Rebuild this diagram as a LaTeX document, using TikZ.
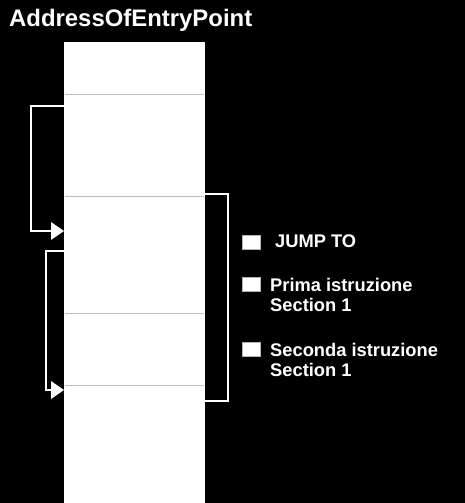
\documentclass[tikz,border=0pt]{standalone}
\usepackage{fontspec}
\setmainfont{Liberation Sans}
\usetikzlibrary{arrows.meta}
\begin{document}
\begin{tikzpicture}[x=1pt,y=-1pt,
  sep/.style={draw=black!25,line width=0.8pt},
  bracket/.style={draw=black!35,double=white,double distance=1.4pt,line width=0.5pt},
  legbox/.style={fill=white,draw=black!30,line width=0.4pt,minimum width=18pt,minimum height=14pt,inner sep=0pt},
  legtext/.style={text=white,font=\bfseries\fontsize{18.3}{21}\selectfont,anchor=base west,inner sep=0pt}]
\useasboundingbox (0,0) rectangle (465,503);
\fill[black] (0,0) rectangle (465,503);
% title
\node[text=white,font=\bfseries\fontsize{23.9}{27}\selectfont,anchor=base west,inner sep=0pt] (title) at (9,27) {AddressOfEntryPoint};
% column
\fill[white] (64,42) rectangle (205,503);
\draw[sep] (65,94) -- (204,94);
\draw[sep] (65,196) -- (204,196);
\draw[sep] (65,313) -- (204,313);
\draw[sep] (65,385) -- (204,385);
% bracket coordinates
\coordinate (a1) at (64,106);
\coordinate (a2) at (64,231);
\coordinate (b1) at (64,251);
\coordinate (b2) at (64,390);
\coordinate (r1) at (205,194);
\coordinate (r2) at (205,401);
\draw[bracket] (a1) -- (31,106) -- (31,231) -- (51,231);
\fill[white] (51,222) -- (a2) -- (51,240) -- cycle;
\draw[bracket] (b1) -- (46,251) -- (46,390) -- (51,390);
\fill[white] (51,381) -- (b2) -- (51,399) -- cycle;
\draw[bracket] (r1) -- (228,194) -- (228,401) -- (r2);
% legend
\node[legbox] (k1) at (251.5,242.5) {};
\node[legtext] (t1) at (275,247.5) {JUMP TO};
\node[legbox] (k2) at (251.5,284) {};
\node[legtext] (t2a) at (270,291) {Prima istruzione};
\node[legtext] (t2b) at (270,311) {Section 1};
\node[legbox] (k3) at (251.5,349) {};
\node[legtext] (t3a) at (270,356) {Seconda istruzione};
\node[legtext] (t3b) at (270,376) {Section 1};
\end{tikzpicture}
\end{document}
